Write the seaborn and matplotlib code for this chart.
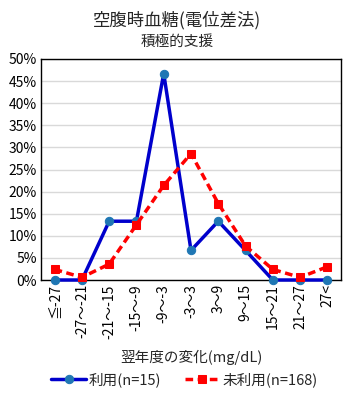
import numpy as np
import pandas as pd
import matplotlib
matplotlib.use('Agg')
import matplotlib.pyplot as plt
import seaborn as sns
from matplotlib.ticker import FuncFormatter

# ====================
#  DATA
# ====================

categories = ['≦-27', '-27～-21', '-21～-15', '-15～-9', '-9～-3', '-3～3',
              '3～9', '9～15', '15～21', '21～27', '27<']
used = [0.0, 0.0, 13.3, 13.3, 46.7, 6.7, 13.3, 6.7, 0.0, 0.0, 0.0]
not_used = [2.4, 0.6, 3.6, 12.5, 21.4, 28.6, 17.3, 7.7, 2.4, 0.6, 3.0]
series_names = ['利用(n=15)', '未利用(n=168)']

# ====================
#  PLOT
# ====================

sns.set_theme(style='white')
plt.rcParams['font.family'] = ['Noto Sans CJK JP', 'DejaVu Sans']

df = pd.DataFrame({
    'x': list(range(len(categories))) * 2,
    'value': used + not_used,
    'series': [series_names[0]] * len(used) + [series_names[1]] * len(not_used),
})

fig = plt.figure(figsize=(3.55, 4.01), dpi=100)
ax = fig.add_axes([41 / 355, 1 - 280 / 401, 300 / 355, 221 / 401])

ax.grid(axis='y', color='#d9d9d9', linewidth=1)
ax.set_axisbelow(True)

sns.lineplot(data=df[df.series == series_names[0]], x='x', y='value', ax=ax,
             color='#0000cc', linewidth=2.5, marker='o', markersize=6,
             markerfacecolor='#1f77b4', markeredgecolor='#1f77b4',
             label=series_names[0], zorder=3, clip_on=False)
sns.lineplot(data=df[df.series == series_names[1]], x='x', y='value', ax=ax,
             color='#ff0000', linewidth=2.5, linestyle=(0, (2.2, 1.3)), marker='s',
             markersize=6, markerfacecolor='#ff0000', markeredgecolor='#ff0000',
             label=series_names[1], zorder=4, clip_on=False)

ax.set_xlim(-0.5, len(categories) - 0.5)
ax.set_ylim(0, 50)
ax.set_yticks(np.arange(0, 51, 5))
ax.yaxis.set_major_formatter(FuncFormatter(lambda v, p: f'{v:.0f}%'))
ax.set_xticks(range(len(categories)))
ax.set_xticklabels(categories, rotation=90)
ax.tick_params(axis='both', length=0, labelsize=10, colors='black', pad=3)

for s in ax.spines.values():
    s.set_color('black')
    s.set_linewidth(1)
    s.set_zorder(2)

ax.set_xlabel('翌年度の変化(mg/dL)', fontsize=10.5, labelpad=8)
ax.set_ylabel('')

fig.text(0.5, 1 - 20 / 401, '空腹時血糖(電位差法)', ha='center', va='center', fontsize=12.5)
fig.text(0.5, 1 - 42 / 401, '積極的支援', ha='center', va='center', fontsize=10.5)

ax.legend(loc='center', bbox_to_anchor=(0.52, 1 - 380 / 401), bbox_transform=fig.transFigure,
          ncol=2, frameon=False, fontsize=10.5, handlelength=2.4, columnspacing=1.6,
          handletextpad=0.2)

fig.savefig('out.png', dpi=100)
plt.close(fig)
